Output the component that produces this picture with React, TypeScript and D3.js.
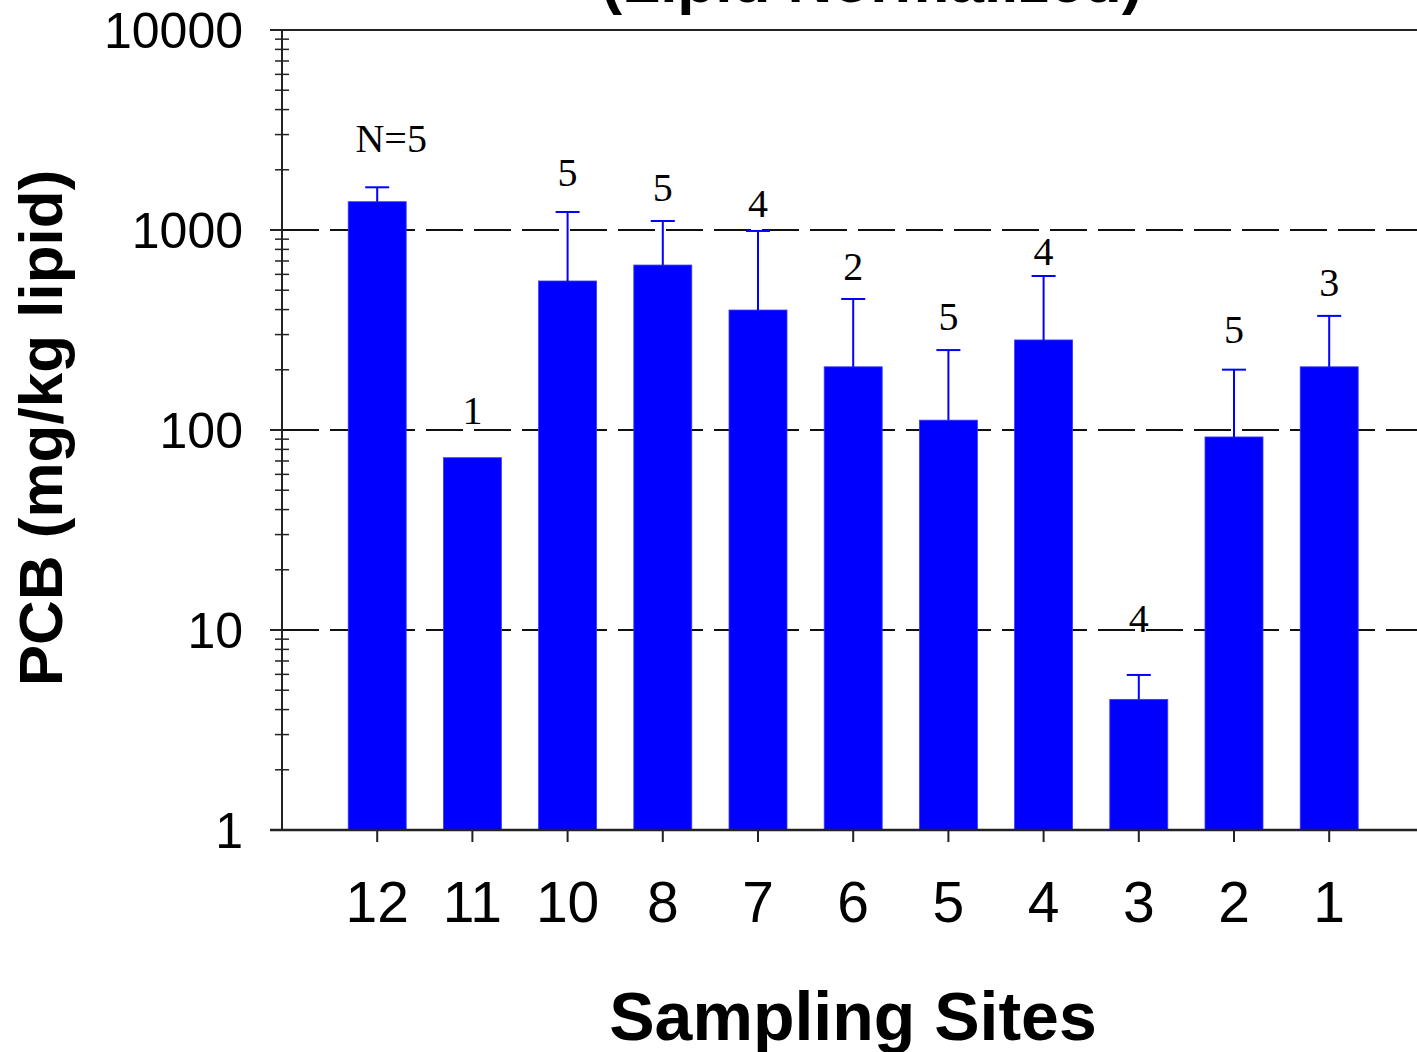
import React from 'react';
import * as d3 from 'd3';

// sampling sites, left to right
const sites = ['12', '11', '10', '8', '7', '6', '5', '4', '3', '2', '1'];
// mean PCB, mg/kg lipid
const means = [1385, 72.7, 556, 668, 398, 207, 112, 282, 4.5, 92.3, 207];
// upper error (added to mean)
const errs = [250, 0, 674, 441, 591, 245, 139, 307, 1.46, 108, 165];
// sample counts shown above bars
const nLabels = ['N=5', '1', '5', '5', '4', '2', '5', '4', '4', '5', '3'];
// value level where each count label sits
const nLabelAt = [2455, 107, 1660, 1396, 1161, 562, 316, 668, 9.77, 272, 468];
const yTicks = [1, 10, 100, 1000, 10000];

const W = 1417;
const H = 1052;

const App = () => {
  const x = d3.scaleLinear().domain([0, sites.length + 1]).range([282, 282 + 12 * 95.2]);
  const y = d3.scaleLog().domain([1, 10000]).range([830, 30]);
  const barW = 58;

  const minor: number[] = [];
  for (let d = 1; d < 10000; d *= 10) {
    for (let k = 2; k <= 9; k++) minor.push(d * k);
  }

  return (
    <svg width={W} height={H} style={{ position: 'absolute', left: 0, top: 0, background: '#fff' }}
      fontFamily="Liberation Sans, Arial, sans-serif">
      {/* title, cut off at the top */}
      <text x={872} y={2} textAnchor="middle" fontSize={62} fontWeight="bold">(Lipid Normalized)</text>

      {/* dashed grid */}
      {[10, 100, 1000].map((v) => (
        <line key={v} x1={282} x2={W} y1={y(v)} y2={y(v)} stroke="#111" strokeWidth={2} strokeDasharray="37 11" />
      ))}

      {/* bars */}
      {means.map((m, i) => (
        <rect key={i} x={x(i + 1) - barW / 2} y={y(m)} width={barW} height={y(1) - y(m)}
          fill="#0000ff" stroke="#3a3aff" strokeWidth={0.8} />
      ))}

      {/* error bars */}
      {means.map((m, i) => errs[i] > 0 ? (
        <g key={i} stroke="#0000ff" strokeWidth={2}>
          <line x1={x(i + 1)} x2={x(i + 1)} y1={y(m)} y2={y(m + errs[i])} />
          <line x1={x(i + 1) - 12} x2={x(i + 1) + 12} y1={y(m + errs[i])} y2={y(m + errs[i])} />
        </g>
      ) : null)}

      {/* N labels */}
      {nLabels.map((t, i) => (
        <text key={i} x={x(i + 1) + (i === 0 ? 14 : 0)} y={y(nLabelAt[i])} textAnchor="middle"
          fontFamily="Liberation Serif, Times New Roman, serif" fontSize={40}>{t}</text>
      ))}

      {/* frame */}
      <line x1={270} x2={W} y1={y(10000)} y2={y(10000)} stroke="#222" strokeWidth={2} />
      <line x1={270} x2={W} y1={y(1)} y2={y(1)} stroke="#222" strokeWidth={2.5} />
      <line x1={282} x2={282} y1={y(10000)} y2={y(1)} stroke="#222" strokeWidth={2} />

      {/* y ticks */}
      {yTicks.map((v) => (
        <g key={v}>
          <line x1={270} x2={282} y1={y(v)} y2={y(v)} stroke="#222" strokeWidth={2} />
          <text x={243} y={y(v)} dy="0.36em" textAnchor="end" fontSize={50}>{v}</text>
        </g>
      ))}
      {minor.map((v) => (
        <line key={v} x1={275} x2={289} y1={y(v)} y2={y(v)} stroke="#222" strokeWidth={1.5} />
      ))}

      {/* x ticks */}
      {sites.map((s, i) => (
        <g key={s}>
          <line x1={x(i + 1)} x2={x(i + 1)} y1={y(1)} y2={y(1) + 12} stroke="#222" strokeWidth={2} />
          <text x={x(i + 1)} y={922} textAnchor="middle" fontSize={57}>{s}</text>
        </g>
      ))}

      {/* axis titles */}
      <text x={853} y={1040} textAnchor="middle" fontSize={68} fontWeight="bold">Sampling Sites</text>
      <text transform="translate(62,428) rotate(-90)" textAnchor="middle" fontSize={62} fontWeight="bold">PCB (mg/kg lipid)</text>
    </svg>
  );
};

export default App;
